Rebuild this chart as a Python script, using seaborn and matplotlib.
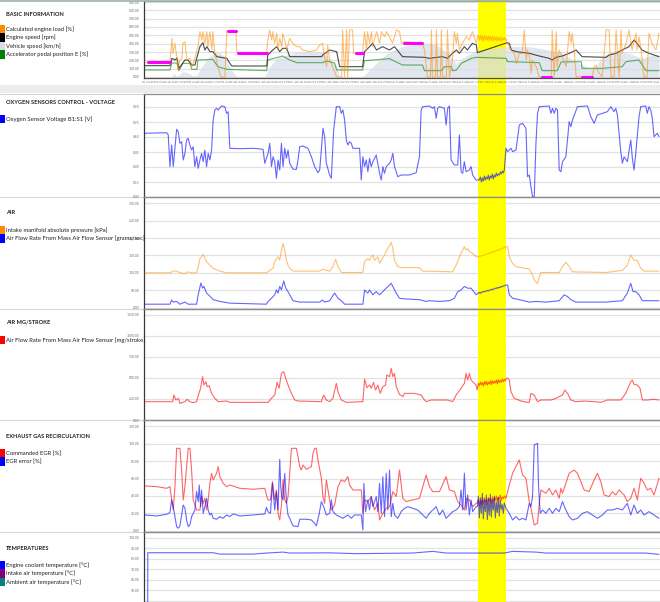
import matplotlib
matplotlib.use('Agg')
import matplotlib.pyplot as plt
from matplotlib.patches import Rectangle
from matplotlib.lines import Line2D
from matplotlib.ticker import MultipleLocator, AutoMinorLocator, FormatStrFormatter, FuncFormatter
import pandas as pd
import seaborn as sns

#%% data (t = sample index, one per pixel column)
load = [(0,176),(25,176),(27,464),(28,284),(30,404),(32,224),(33,84),(35,204),(37,224),(38,404),(40,424),
        (42,204),(45,224),(47,124),(50,224),(52,324),(53,364),(55,544),(57,444),(58,544),(60,404),(62,544),
        (63,364),(65,544),(67,324),(68,544),(70,284),(73,124),(76,0),(80,0),(82,556),(91,556),(92,304),
        (93,292),(122,292),(123,444),(125,564),(127,444),(128,544),(130,404),(132,524),(133,324),(135,464),
        (137,364),(138,524),(140,444),(142,324),(145,464),(148,404),(152,364),(155,364),(158,324),(165,304),
        (172,324),(175,384),(178,404),(180,224),(182,124),(183,384),(185,204),(188,124),(192,0),(197,0),
        (198,564),(200,0),(202,564),(203,0),(205,564),(208,564),(209,284),(218,284),(220,544),(222,324),
        (223,544),(225,404),(227,544),(228,364),(232,544),(235,404),(237,544),(240,484),(242,544),(245,484),
        (248,404),(252,564),(255,544),(257,404),(260,424),(278,404),(280,324),(283,0),(286,0),(287,564),
        (288,0),(291,0),(292,564),(293,0),(296,0),(297,564),(298,0),(302,0),(303,564),(305,0),(308,204),
        (310,544),(312,404),(313,524),(315,324),(318,404),(322,484),(325,444),(328,544),(332,404),
        (333,480),(334,500),(335,440),(336,505),(337,450),(338,495),(339,430),(340,500),(341,445),(342,490),
        (343,440),(344,495),(345,435),(346,485),(347,440),(348,490),(349,430),(350,480),(351,445),(352,485),
        (353,430),(354,475),(355,440),(356,480),(357,430),(358,470),(359,445),(360,475),(361,440),(362,460),
        (363,404),(367,324),(370,284),(372,164),(373,204),(375,284),(378,284),(380,564),(382,204),(383,324),
        (385,264),(387,44),(388,204),(392,124),(395,0),(407,0),(408,564),(410,0),(412,544),(413,124),
        (415,324),(418,244),(422,124),(425,544),(427,404),(428,524),(430,324),(432,0),(448,0),(450,124),
        (452,144),(453,84),(458,0),(462,564),(465,564),(467,0),(470,0),(472,564),(475,0),(477,564),(478,284),
        (482,404),(485,564),(488,324),(492,524),(493,324),(495,484),(497,324),(500,0),(503,0),(505,524),
        (508,404),(512,324),(515,524)]
rpm = [(0,136),(25,136),(27,224),(30,204),(32,228),(34,104),(40,204),(43,204),(47,144),(50,144),(55,364),
       (58,412),(60,324),(62,364),(65,304),(68,304),(72,244),(82,224),(85,164),(87,132),(122,132),(123,264),
       (128,324),(132,364),(135,304),(138,344),(142,344),(145,244),(148,244),(177,244),(178,264),(185,324),
       (192,304),(195,124),(218,124),(220,304),(225,364),(228,404),(232,324),(238,364),(245,324),(250,364),
       (254,304),(258,244),(280,236),(285,224),(298,244),(303,224),(308,284),(312,324),(315,284),(320,364),
       (323,324),(328,404),(332,384),(333,292),(363,412),(365,404),(367,324),(372,304),(385,284),(395,252),
       (405,224),(408,204),(412,236),(418,252),(425,284),(432,324),(438,244),(462,236),(465,264),(472,284),
       (478,324),(485,364),(490,444),(493,404),(498,324),(505,284),(515,244)]
speed = [(0,0),(27,0),(28,44),(32,12),(35,36),(38,64),(43,52),(48,12),(52,24),(57,124),(63,224),(70,304),
         (75,284),(80,244),(83,164),(88,64),(92,0),(120,0),(125,124),(132,224),(142,264),(155,304),(178,304),
         (185,224),(192,124),(195,0),(218,0),(225,84),(235,204),(245,304),(258,364),(278,404),(288,404),
         (295,364),(305,264),(312,164),(318,224),(332,324),(363,364),(385,364),(405,324),(418,284),(432,184),
         (445,104),(452,124),(458,244),(472,324),(485,284),(498,224),(508,264),(515,264)]
pedal = [(0,84),(25,84),(27,168),(32,168),(34,76),(38,164),(45,164),(47,92),(52,92),(53,204),(68,212),
         (73,124),(82,92),(122,76),(123,204),(138,252),(145,204),(152,172),(178,172),(182,192),(190,168),
         (192,84),(218,84),(220,196),(245,220),(258,144),(278,144),(280,76),(297,76),(300,124),(307,124),
         (308,76),(312,84),(317,164),(327,224),(332,236),(362,224),(363,184),(395,172),(398,76),(413,76),
         (417,180),(437,184),(438,104),(458,104),(478,124),(482,184),(495,204),(502,76),(515,76)]
# magenta out-of-range stretches of the engine load: (start, end, value)
load_flag = [(3,25,184),(83,91,556),(93,122,292),(211,218,284),(260,278,412),(398,407,4),(438,448,4)]

o2 = [(0,0.637),(21.7,0.643),(23.3,0.62),(25,0.303),(26.7,0.52),(28.3,0.303),(31.7,0.677),(33.3,0.653),
      (35,0.537),(36.7,0.553),(38.3,0.37),(40,0.437),(41.7,0.57),(43.3,0.587),(45,0.52),(46.7,0.47),
      (48.3,0.503),(50,0.303),(51.7,0.403),(53.3,0.287),(55,0.37),(56.7,0.437),(58.3,0.353),(60,0.47),
      (61.7,0.303),(63.3,0.437),(65,0.37),(66.7,0.47),(68.3,0.77),(70,0.87),(71.7,0.887),(73.3,0.87),
      (76.7,0.91),(80,0.903),(81.7,0.837),(83.3,0.853),(85,0.487),(95,0.483),(108.3,0.487),(118.3,0.477),
      (120,0.337),(121.7,0.387),(123.3,0.437),(125,0.537),(126.7,0.303),(128.3,0.403),(130,0.353),
      (131.7,0.187),(133.3,0.37),(135,0.27),(136.7,0.537),(138.3,0.303),(140,0.487),(141.7,0.387),
      (143.3,0.47),(145,0.337),(148.3,0.277),(151.7,0.277),(153.3,0.37),(155,0.503),(158.3,0.51),
      (163.3,0.487),(166.7,0.403),(170,0.303),(173.3,0.243),(175,0.27),(176.7,0.47),(178.3,0.687),
      (180,0.603),(181.7,0.337),(185,0.22),(186.7,0.187),(189,0.667),(191.7,0.903),(195,0.903),
      (196.7,0.837),(198.3,0.87),(200,0.77),(201.7,0.57),(203.3,0.52),(205,0.553),(206.7,0.537),
      (208.3,0.487),(215,0.487),(216.7,0.17),(218.3,0.403),(220,0.303),(221.7,0.37),(223.3,0.253),
      (225,0.387),(226.7,0.303),(228.3,0.353),(231.7,0.42),(235,0.237),(236.7,0.17),(238.3,0.303),
      (240,0.237),(241.7,0.303),(245,0.337),(246.7,0.37),(248.3,0.437),(250,0.303),(253.3,0.203),
      (256.7,0.22),(265,0.22),(271.7,0.243),(275,0.403),(276.7,0.87),(278.3,0.903),(285,0.91),
      (288.3,0.887),(290,0.903),(291.7,0.787),(293.3,0.887),(295,0.903),(300,0.887),(301.7,0.72),
      (303.3,0.887),(305,0.91),(306.7,0.37),(310,0.32),(313.3,0.32),(315,0.62),(316.7,0.253),
      (318.3,0.237),(320,0.353),(321.7,0.253),(325,0.27),(326.7,0.303),(328.3,0.22),(331.7,0.17),
      (335,0.17),(336,0.20),(337,0.15),(338,0.19),(339,0.16),(340,0.21),(341,0.17),(342,0.20),(343,0.18),
      (344,0.22),(345,0.17),(346,0.21),(347,0.19),(348,0.23),(349,0.18),(350,0.22),(351,0.20),(352,0.24),
      (353,0.21),(354,0.23),(355,0.22),(356,0.25),(357,0.23),(358,0.26),(359,0.24),(360,0.27),
      (361.7,0.487),(363.3,0.453),(366.7,0.487),(368.3,0.453),(371.7,0.47),(375,0.72),(378.3,0.737),
      (381.7,0.687),(383.3,0.203),(385,0.22),(386.7,0.103),(388.3,0.003),(390,0.003),(391.7,0.537),
      (393.3,0.837),(395,0.903),(405,0.91),(406.7,0.837),(408.3,0.887),(410,0.837),(411.7,0.887),
      (413.3,0.87),(415,0.27),(416.7,0.253),(418.3,0.353),(421.7,0.403),(423.3,0.57),(425,0.753),
      (426.7,0.703),(428.3,0.77),(433.3,0.903),(443.3,0.91),(446.7,0.803),(450,0.737),(453.3,0.82),
      (458.3,0.837),(463.3,0.853),(466.7,0.903),(470,0.853),(471.7,0.887),(473.3,0.82),(475,0.637),
      (476.7,0.453),(478.3,0.337),(480,0.403),(483.3,0.353),(486.7,0.57),(488.3,0.387),(490,0.27),
      (491.7,0.437),(495,0.803),(496.7,0.903),(501.7,0.91),(503.3,0.837),(505,0.903),(506.7,0.87),
      (508.3,0.787),(510,0.603),(513.3,0.637),(515,0.603)]

map_kpa = [(0,100),(25,100),(28.3,105),(31.7,105),(35,100),(40,98),(43.3,103),(46.7,100),(51.7,100),
           (53.3,117),(55,141),(56.7,146),(58.3,153),(60,141),(61.7,132),(65,122),(68.3,113),(75,105),
           (81.7,100),(121.7,100),(125,107),(128.3,113),(130,132),(131.7,141),(133.3,146),(135,136),
           (136.7,165),(138.3,184),(140,165),(141.7,136),(143.3,122),(145,113),(148.3,105),(175,105),
           (178.3,111),(180,108),(185,105),(188.3,118),(191,139),(193.3,118),(196.7,101),(218.3,101),
           (220,132),(223.3,141),(225,136),(226.7,146),(228.3,151),(230,136),(233.3,146),(235,127),
           (236.7,136),(240,151),(243.3,170),(246.7,187),(248.3,170),(250,136),(253.3,118),(256.7,115),
           (275,115),(278.3,105),(308.3,103),(311.7,122),(315,146),(318.3,165),(320,175),(321.7,165),
           (323.3,170),(325,161),(328.3,156),(330,151),(331.7,146),
           (334,146),(335,148),(336,147),(337,149),(338,150),(339,151),(340,150),(341,153),(342,154),
           (343,155),(344,154),(345,157),(346,158),(347,157),(348,160),(349,161),(350,162),(351,161),
           (352,164),(353,165),(354,166),(355,165),(356,168),(357,169),(358,170),(359,171),(360,173),
           (361,175),(363.3,175),(365,146),(368.3,127),(371.7,118),(376.7,115),(385,111),(388.3,94),
           (390,79),(393.3,69),(395,88),(396.7,101),(415,101),(418.3,118),(421.7,130),(425,118),
           (428.3,103),(461.7,101),(478.3,107),(483.3,122),(486.7,151),(490,136),(493.3,136),(496.7,113),
           (500,105),(515,105)]
maf_gs = [(0,10),(25,10),(26.7,22),(28.3,16),(31.7,18),(35,10),(40,16),(43.3,10),(51.7,10),(53.3,37),
          (56,71),(57.7,56),(59,61),(61.7,42),(65,33),(68.3,23),(75,18),(85,13),(121.7,10),(123.3,18),
          (126.7,27),(130,37),(131.7,51),(133.3,42),(135,61),(136.7,51),(139,77),(141,56),(143.3,46),
          (145,37),(148.3,20),(155,16),(175,16),(177.7,22),(180,16),(185,20),(190,42),(193.3,27),
          (196.7,20),(200,10),(218.3,10),(220,51),(221.7,46),(223.3,42),(225,51),(228.3,37),(231.7,46),
          (235,37),(238.3,46),(241.7,56),(245,65),(246.7,70),(248.3,61),(251.7,42),(255,27),(261.7,25),
          (275,23),(281.7,18),(285,20),(295,18),(305,20),(310,27),(313.3,46),(316.7,51),(320,61),
          (323.3,56),(326.7,56),(331.7,37),
          (334,42),(335,44),(336,41),(337,45),(338,44),(339,47),(340,45),(341,48),(342,47),(343,50),
          (344,48),(345,51),(346,50),(347,53),(348,51),(349,54),(350,53),(351,56),(352,55),(353,58),
          (354,56),(355,59),(356,58),(357,61),(358,60),(359,63),(360,62),(361,65),(363.3,65),(365,37),
          (368.3,27),(375,23),(385,16),(391.7,18),(401.7,16),(415,20),(420,37),(423.3,32),(426.7,23),
          (431.7,16),(461.7,16),(478.3,20),(483.3,42),(486.7,70),(489,46),(491.7,46),(495,37),(498.3,20),
          (515,20)]

maf_mg = [(0,218),(27.7,218),(29,297),(31,238),(33.3,258),(35,198),(40,218),(42.3,246),(45,218),
          (48.3,206),(51.7,218),(53.3,289),(55.7,377),(57.7,516),(59,416),(61,456),(62.3,397),(64.3,408),
          (66.7,317),(70,258),(73.3,218),(81.7,226),(85,210),(123.3,210),(126.7,258),(130,297),
          (132.3,448),(134.3,377),(136.7,555),(139,575),(141,496),(143.3,416),(146.7,317),(150,238),
          (153.3,226),(176.7,218),(179,297),(181.7,238),(185,218),(188.3,258),(191.7,436),(193.3,337),
          (196.7,238),(201.7,210),(218.3,218),(220,488),(222.3,385),(225,416),(226.7,377),(229,448),
          (231,357),(233.3,416),(235.7,317),(238.3,397),(241,416),(242.3,536),(245,516),(246.7,615),
          (248.3,516),(250,555),(251.7,397),(255,305),(258.3,278),(260,317),(270,317),(276.7,297),
          (280,238),(281.7,218),(286.7,238),(300,238),(303.3,238),(308.3,218),(311.7,297),(316.7,377),
          (320,436),(321.7,555),(323.3,476),(325,555),(326.7,476),(330,436),(331.7,416),(332.7,357),
          (334,436),(335,410),(336,450),(337,420),(338,445),(339,405),(340,455),(341,425),(342,460),
          (343,415),(344,450),(345,430),(346,465),(347,420),(348,470),(349,435),(350,460),(351,440),
          (352,475),(353,430),(354,480),(355,445),(356,470),(357,450),(358,490),(359,455),(360,485),
          (361,465),(362,500),(363.3,496),(365,476),(366.7,337),(370,258),(376.7,226),(383.3,210),
          (385,210),(386.7,317),(390,297),(393.3,218),(396.7,238),(406.7,238),(411.7,258),(418.3,297),
          (420.7,357),(423.3,317),(426.7,238),(431.7,218),(440,226),(450,218),(456.7,210),(463.3,238),
          (476.7,238),(481.7,317),(486.7,456),(488.3,476),(490,424),(493.3,416),(496,377),(498.3,238),
          (503.3,238),(510,246),(515,238)]

egr_cmd = [(0,51.5),(11.7,50.7),(21.7,48.8),(25,50.7),(26.7,35.5),(28.3,24),(30,50.7),(31.7,94.5),
           (35,94.5),(36.7,69.7),(38.3,35.5),(40,50.7),(43.3,94.5),(45,94.5),(46.7,69.7),(48.3,35.5),
           (51.7,24),(55,24),(56.7,39.3),(58.3,31.6),(60,37.4),(61.7,24),(63.3,35.5),(65,54.5),(66.7,65.9),
           (68.3,58.3),(71.7,65.9),(73.3,73.6),(75,62.1),(78.3,54.5),(81.7,50.7),(85,52.6),(95,48.8),
           (108.3,47.7),(120,48.8),(121.7,41.2),(123.3,35.5),(125.7,35.5),(127.7,56.4),(130,35.5),
           (131.7,46.9),(133.3,20.2),(135,12.6),(136.7,29.7),(138.3,58.3),(140,35.5),(141.7,31.6),
           (143.3,39.3),(145,65.9),(146.7,94.5),(151.7,94.5),(153.3,85),(155,73.6),(156.7,69.7),
           (158.3,75.5),(161.7,70.5),(166.7,73.6),(168.3,88.8),(170,94.5),(171.7,94.5),(173.3,81.2),
           (176.7,60.2),(178.3,39.3),(180,31.6),(181.7,58.3),(185,35.5),(186.7,24),(190,29.7),(193.3,50.7),
           (196.7,58.3),(200,56.4),(203.3,62.1),(205,52.6),(208.3,46.9),(216.7,46.9),(218.3,20.2),
           (220,35.5),(223.3,33.6),(226.7,39.3),(230,24),(233.3,31.6),(235,12.6),(238.3,20.2),(241.7,25.9),
           (245,27.8),(248.3,45),(251.7,39.3),(255,69.7),(258.3,37.4),(261.7,33.6),(268.3,35.5),
           (275,37.4),(278.3,50.7),(281.7,64),(285,50.7),(288.3,45),(295,45),(301.7,62.1),(305,46.9),
           (310,45),(313.3,33.6),(316.7,29.7),(320,24),(321.7,37.4),(325,35.5),(328.3,27.8),(331.7,31.6),
           (333,32),(334,36),(335,29),(336,35),(337,30),(338,37),(339,31),(340,38),(341,33),(342,36),
           (343,30),(344,38),(345,34),(346,37),(347,31),(348,39),(349,33),(350,38),(351,35),(352,40),
           (353,34),(354,38),(355,36),(356,41),(357,35),(358,39),(359,37),(360,40),(361.7,37.4),
           (365,52.6),(368.3,66),(371.7,73.6),(375,81.2),(378.3,64),(381.7,60.2),(385,33.6),(386.7,25.9),
           (390,6.9),(393.3,8.8),(395,31.6),(396.7,46.9),(401.7,43.1),(405,48.8),(408.3,41.2),
           (411.7,46.9),(415,37.4),(416.7,48.8),(418.3,43.1),(421.7,54.5),(425,66),(430,69.7),(433.3,66),
           (436.7,56.4),(440,46.9),(445,45),(450,58.3),(453.3,66),(456.7,56.4),(460,41.2),(465,39.3),
           (468.3,45),(471.7,41.2),(475,46.9),(480,41.2),(483.3,33.6),(486.7,37.4),(490,48.8),(493.3,35.5),
           (496.7,60.2),(500,54.5),(503.3,46.9),(506.7,48.8),(510,41.2),(515,60.2)]
egr_err = [(0,18.3),(11.7,17.2),(21.7,19.1),(25,21),(26.7,35.5),(28.3,27.8),(30,16.4),(31.7,5),(33.3,3.1),
           (35,5.8),(38.3,29.7),(40,25.9),(41.7,12.6),(43.3,5),(45,6.9),(46.7,16.4),(50,24),(51.7,45),
           (53.3,33.6),(54.3,52.6),(55.7,27.8),(56.7,46.9),(58.3,20.2),(60,27.8),(61.7,37.4),(63.3,24),
           (65,18.3),(66.7,20.2),(68.3,14.5),(71.7,13.4),(75,16.4),(78.3,14.5),(81.7,18.3),(85,16.4),
           (88.3,19.5),(95,17.2),(108.3,18.3),(120,19.5),(121.7,27),(123.3,22),(125.7,20.2),(127.7,54.5),
           (130,24),(131.7,45),(133.3,24),(135,81.9),(136,50.7),(137,39.3),(138.3,35.5),(140,65.9),
           (141.7,33.6),(143.3,18.3),(145,14.5),(148.3,5.8),(153.3,5),(155,13.4),(161.7,13.4),(166.7,12.6),
           (170,8.8),(171.7,5.8),(174.3,18.3),(176.7,33.6),(179,27.8),(181.7,18.3),(185,20.2),(186.7,35.5),
           (188.3,22.1),(191.7,18.3),(195,16.4),(198.3,14.5),(203.3,18.3),(206.7,14.5),(210,18.3),
           (216.7,18.3),(218.3,1.2),(219.3,54.5),(221,22.1),(223.3,35.5),(225,24),(226.7,39.3),(228.3,27.8),
           (231.7,39.3),(233.3,22.1),(235,54.5),(236.7,20.2),(238.3,62.1),(240,16.4),(241.7,66),(243.3,24),
           (245,69.7),(246.7,16.4),(248.3,31.6),(250,18.3),(253.3,14.5),(256.7,22.1),(260,25.9),
           (263.3,27.8),(268.3,25.9),(273.3,24),(278.3,18.3),(281.7,14.5),(285,20.2),(288.3,24),
           (291.7,27.8),(295,18.3),(298.3,24),(301.7,14.5),(305,18.3),(308.3,22.1),(311.7,24),(315,27.8),
           (316.7,46.9),(318.3,24),(320,66),(321.7,24),(323.3,41.2),(325,18.3),(326.7,35.5),(328.3,22.1),
           (331.7,27.8),(333,28),(334,40),(335,15),(336,38),(337,20),(338,43),(339,14),(340,35),(341,22),
           (342,41),(343,13),(344,37),(345,18),(346,42),(347,16),(348,36),(349,24),(350,40),(351,15),
           (352,33),(353,21),(354,39),(355,17),(356,35),(357,25),(358,30),(359,20),(360,32),(361.7,25.9),
           (365,20.2),(368.3,12.6),(371.7,16.4),(375,12.6),(378.3,14.5),(381.7,12.6),(385,31.6),
           (386.7,27.8),(388.3,39.3),(390,98.3),(393.3,100.2),(394.3,50.7),(396,20.2),(398.3,24),
           (401.7,20.2),(405,25.9),(408.3,20.2),(411.7,25.9),(415,22.1),(418.3,33.6),(421.7,24),(425,16.4),
           (428.3,12.6),(433.3,14.5),(438.3,20.2),(443.3,22.1),(448.3,18.3),(453.3,14.5),(458.3,18.3),
           (463.3,24),(468.3,24),(473.3,25.9),(478.3,24),(483.3,31.6),(486.7,18.3),(490,29.7),(493.3,20.2),
           (496.7,24),(500,18.3),(505,22.1),(510,18.3),(515,14.5)]

coolant = [(2.7,30),(2.8,85.7),(68.3,85.7),(75,84.4),(108.3,84.4),(121.7,85.4),(138.3,86.3),(145,85.4),
           (185,85.6),(211.7,84.8),(268.3,85.4),(288.3,87),(301.7,85.4),(360,85.4),(368.3,87),(391.7,86.3),
           (401.7,85.4),(445,85.4),(501.7,85.4),(515,84.1)]
intake_air = [(2.7,28),(515,28)]
ambient_air = [(2.7,21),(515,21)]

highlight = (334, 361.7)   # marked time window

#%% layout helpers (pixel based)
W, H = 660, 602
X0 = 144
sns.set_style('white')
plt.rcParams['font.family'] = ['Lato', 'DejaVu Sans']

fig = plt.figure(figsize=(W / 100, H / 100), dpi=100)


def box(top, bottom, left=X0, right=W):
    return [left / W, 1 - bottom / H, (right - left) / W, (bottom - top) / H]


def draw(ax, pairs, color, alpha=0.6, lw=0.8, z=3):
    df = pd.DataFrame(pairs, columns=['t', 'v'])
    sns.lineplot(data=df, x='t', y='v', ax=ax, color=color, alpha=alpha, lw=lw,
                 estimator=None, sort=False, legend=False, zorder=z)
    ax.set_xlabel('')
    ax.set_ylabel('')


def setup(ax, ylim, step, min_label=None):
    ax.set_facecolor('none')
    ax.set_xlim(-1, 516)
    ax.set_ylim(*ylim)
    ax.yaxis.set_major_locator(MultipleLocator(step))
    ax.yaxis.set_minor_locator(AutoMinorLocator(5))
    if min_label is None:
        ax.yaxis.set_major_formatter(FormatStrFormatter('%.2f'))
    else:
        ax.yaxis.set_major_formatter(FuncFormatter(lambda v, p: f'{v:.2f}' if v >= min_label else ''))
    ax.set_axisbelow(True)
    ax.grid(axis='y', which='major', color='#e2e2e2', lw=0.9)
    ax.axvspan(*highlight, color='#ffff00', lw=0, zorder=1)
    ax.tick_params(axis='y', which='major', direction='out', length=2, width=0.5, color='#303030',
                   labelsize=2.4, labelcolor='#707070', pad=1)
    ax.tick_params(axis='y', which='minor', direction='out', length=1.3, width=0.4, color='#303030')
    ax.set_xticks([])
    ax.spines['right'].set_visible(False)
    ax.spines['left'].set_color('#3a3a3a')
    ax.spines['left'].set_linewidth(0.9)
    for s in ['top', 'bottom']:
        ax.spines[s].set_color('#8c8c8c')
        ax.spines[s].set_linewidth(0.9)


#%% background: grey band and yellow window running through all panels
fig.patches.append(Rectangle((0, 1 - 93 / H), 1, 8 / H, transform=fig.transFigure,
                             color='#ececec', lw=0, zorder=-5))
fig.add_artist(Line2D([0, 1], [1 - 0.5 / H] * 2, color='#9fb4a2', lw=1.2, zorder=10))
for yb in [93.5, 197, 309, 420, 531.5]:
    fig.add_artist(Line2D([0, X0 / W], [1 - yb / H] * 2, color='#d6d6d6', lw=0.8, zorder=-4))
bg = fig.add_axes(box(0, H), zorder=-1)
bg.set_xlim(-1, 516)
bg.axvspan(*highlight, color='#ffff00', lw=0)
bg.axis('off')

#%% panels
ax1 = fig.add_axes(box(1, 78))
setup(ax1, (-12, 912), 100)
s_df = pd.DataFrame(speed, columns=['t', 'v'])
ax1.fill_between(s_df['t'], s_df['v'], color='#d7deea', alpha=0.75, lw=0, zorder=2)
draw(ax1, pedal, '#008000', alpha=0.6)
draw(ax1, rpm, '#000000', alpha=0.7)
draw(ax1, load, '#ff8c00', alpha=0.55)
for t0, t1, v in load_flag:
    draw(ax1, [(t0, v), (t1, v)], '#ff00ff', alpha=1, lw=2.2, z=5)
ax1.spines['bottom'].set_color('#505050')
xt = [i * 3.3 for i in range(157)]
ax1.set_xticks(xt)
ax1.set_xticklabels([str(i % 10) for i in range(157)], rotation=90, fontsize=2.2, color='#606060')
ax1.tick_params(axis='x', length=1, width=0.4, pad=0.8, color='#606060')
ax1.set_xlim(-1, 516)

ax2 = fig.add_axes(box(93.5, 197))
setup(ax2, (0, 1.035), 0.15)
draw(ax2, o2, '#0000ff')

ax3 = fig.add_axes(box(197, 309))
setup(ax3, (-3.8, 317.7), 50)
draw(ax3, map_kpa, '#ff8c00', alpha=0.55)
draw(ax3, maf_gs, '#0000ff')

ax4 = fig.add_axes(box(309, 420))
setup(ax4, (0, 1321), 250)
draw(ax4, maf_mg, '#ff0000')

ax5 = fig.add_axes(box(420, 531.5))
setup(ax5, (-0.6, 126.9), 20)
draw(ax5, egr_cmd, '#ff0000')
draw(ax5, egr_err, '#0000ff')

ax6 = fig.add_axes(box(531.5, 643))
setup(ax6, (-0.6, 106), 10, min_label=45)
draw(ax6, ambient_air, '#008080')
draw(ax6, intake_air, '#800080')
draw(ax6, coolant, '#0000ff')
ax6.set_ylim(-0.6, 106)

#%% left-hand titles and colour keys
legends = [
    ('BASIC INFORMATION', 14, 25, [('Calculated engine load [%]', '#ff8c00'), ('Engine speed [rpm]', '#000000'),
                                   ('Vehicle speed [km/h]', '#d7deea'),
                                   ('Accelerator pedal position E [%]', '#008000')]),
    ('OXYGEN SENSORS CONTROL - VOLTAGE', 102, 115, [('Oxygen Sensor Voltage B1:S1 [V]', '#0000ff')]),
    ('AIR', 213, 226, [('Intake manifold absolute pressure [kPa]', '#ff8c00'),
                       ('Air Flow Rate From Mass Air Flow Sensor [grams/sec]', '#0000ff')]),
    ('AIR MG/STROKE', 322, 336, [('Air Flow Rate From Mass Air Flow Sensor [mg/stroke]', '#ff0000')]),
    ('EXHAUST GAS RECIRCULATION', 436, 449, [('Commanded EGR [%]', '#ff0000'), ('EGR error [%]', '#0000ff')]),
    ('TEMPERATURES', 548, 561, [('Engine coolant temperature [°C]', '#0000ff'),
                                ('Intake air temperature [°C]', '#800080'),
                                ('Ambient air temperature [°C]', '#008080')]),
]
row = 8.4
for title, ty, ly, items in legends:
    fig.text(6 / W, 1 - ty / H, title, fontsize=4.1, fontweight='bold', va='center', ha='left', color='#202020')
    for i, (name, col) in enumerate(items):
        top = ly + i * row
        fig.patches.append(Rectangle((0, 1 - (top + row) / H), 5 / W, row / H, transform=fig.transFigure,
                                     color=col, lw=0, zorder=5))
        fig.text(6 / W, 1 - (top + row / 2) / H, name, fontsize=4.2, va='center', ha='left',
                 color='#202020', zorder=20)

fig.savefig('out.png', dpi=100, facecolor='white')
